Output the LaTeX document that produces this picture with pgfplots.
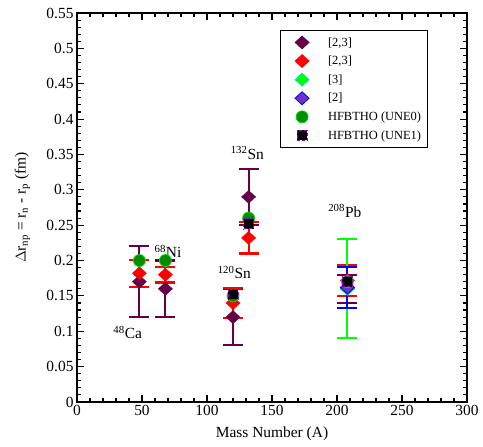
\documentclass[border=0pt]{standalone}
\usepackage{pgfplots}
\pgfplotsset{compat=1.18}
\usepackage{fontspec}
\setmainfont{Liberation Serif}
\usetikzlibrary{calc}

\definecolor{expA}{RGB}{102,0,70}
\definecolor{expB}{RGB}{255,0,0}
\definecolor{expC}{RGB}{0,255,0}
\definecolor{expCedge}{RGB}{0,220,200}
\definecolor{expD}{RGB}{110,50,200}
\definecolor{expDedge}{RGB}{0,0,255}
\definecolor{uneA}{RGB}{0,140,0}
\definecolor{uneAedge}{RGB}{0,220,0}
\definecolor{uneB}{RGB}{150,0,200}

\begin{document}
\begin{tikzpicture}
\begin{axis}[
  name=ax,
  scale only axis,
  width=390bp, height=389bp,
  xmin=0, xmax=300, ymin=0, ymax=0.55,
  xtick={0,50,...,300},
  ytick={0,0.05,...,0.55},
  yticklabels={0,0.05,0.1,0.15,0.2,0.25,0.3,0.35,0.4,0.45,0.5,0.55},
  minor x tick num=4, minor y tick num=4,
  tick align=inside,
  major tick length=7bp, minor tick length=4bp,
  axis line style={line width=1.3pt},
  every tick/.style={black, line width=1.1pt},
  tick label style={font=\fontsize{15.5}{17}\selectfont},
  label style={font=\fontsize{15.5}{17}\selectfont},
  /pgf/number format/assume math mode=true,
  xlabel={Mass Number (A)},
  ylabel={$\Delta$r$_{\mathrm{np}}$ = r$_{\mathrm{n}}$ - r$_{\mathrm{p}}$ (fm)},
  xlabel style={at={(axis description cs:0.5,-0.083)}, anchor=center},
  ylabel style={at={(axis description cs:-0.14,0.5)}, anchor=center},
  legend style={at={(0.52,0.956)}, anchor=north west, draw=black, line width=0.6pt,
    font=\fontsize{12.5}{14}\selectfont, row sep=4.5pt, inner xsep=4pt, inner ysep=5pt},
  legend cell align=left,
  legend image code/.code={\path[draw=none] (0,0) -- (42bp,0); \draw[#1] plot coordinates {(18bp,0cm)};},
]
% [2,3] dark purple
\addplot+[only marks, mark=diamond*, mark size=6.5bp, color=expA, mark options={fill=expA, draw=expA, xscale=1.45},
  error bars/.cd, y dir=both, y explicit,
  error bar style={line width=2.1pt, expA},
  error mark options={rotate=90, mark size=10bp, line width=2.1pt, expA}]
  table[y error=e] {
x y e
48 0.17 0.05
68 0.16 0.04
120 0.12 0.04
132 0.29 0.04
208 0.16 0.02
};
\addlegendentry{[2,3]}
% [2,3] red
\addplot+[only marks, mark=diamond*, mark size=6.5bp, color=expB, mark options={fill=expB, draw=expB, xscale=1.45},
  error bars/.cd, y dir=both, y explicit,
  error bar style={line width=2.1pt, expB},
  error mark options={rotate=90, mark size=10bp, line width=2.1pt, expB}]
  table[y error=e] {
x y e
48 0.182 0.019
68 0.18 0.011
120 0.14 0.021
132 0.232 0.022
208 0.172 0.022
};
\addlegendentry{[2,3]}
% [3] green
\addplot+[only marks, mark=diamond*, mark size=6.5bp, color=expC, mark options={fill=expC, draw=expCedge, xscale=1.45},
  error bars/.cd, y dir=both, y explicit,
  error bar style={line width=2.1pt, expC},
  error mark options={rotate=90, mark size=10bp, line width=2.1pt, expC}]
  table[y error=e] {
x y e
208 0.16 0.07
};
\addlegendentry{[3]}
% [2] blue
\addplot+[only marks, mark=diamond*, mark size=6.5bp, color=expDedge, mark options={fill=expD, draw=expDedge, line width=0.8pt, xscale=1.45},
  error bars/.cd, y dir=both, y explicit,
  error bar style={line width=2.1pt, expDedge},
  error mark options={rotate=90, mark size=10bp, line width=2.1pt, expDedge}]
  table[y error=e] {
x y e
208 0.162 0.029
};
\addlegendentry{[2]}
% HFBTHO UNE0
\addplot+[only marks, mark=*, mark size=6bp, mark options={fill=uneA, draw=uneAedge, line width=0.8pt}]
  table {
x y
48 0.20
68 0.20
120 0.15
132 0.26
208 0.17
};
\addlegendentry{HFBTHO (UNE0)}
% HFBTHO UNE1
\addplot+[only marks, mark=square*, mark size=5bp, mark options={fill=black, draw=uneB, line width=1pt}]
  table {
x y
120 0.152
132 0.252
208 0.17
};
\addlegendentry{HFBTHO (UNE1)}

\node[font=\fontsize{15.5}{17}\selectfont] at (axis cs:39,0.098) {$^{\mathrm{48}}$Ca};
\node[font=\fontsize{15.5}{17}\selectfont] at (axis cs:70,0.213) {$^{\mathrm{68}}$Ni};
\node[font=\fontsize{15.5}{17}\selectfont] at (axis cs:121,0.183) {$^{\mathrm{120}}$Sn};
\node[font=\fontsize{15.5}{17}\selectfont] at (axis cs:131,0.352) {$^{\mathrm{132}}$Sn};
\node[font=\fontsize{15.5}{17}\selectfont] at (axis cs:206,0.27) {$^{\mathrm{208}}$Pb};
\end{axis}
\pgfresetboundingbox
\path[use as bounding box] ($(ax.south west)+(-77bp,-45bp)$) rectangle ($(ax.north east)+(16bp,13bp)$);
\end{tikzpicture}
\end{document}
